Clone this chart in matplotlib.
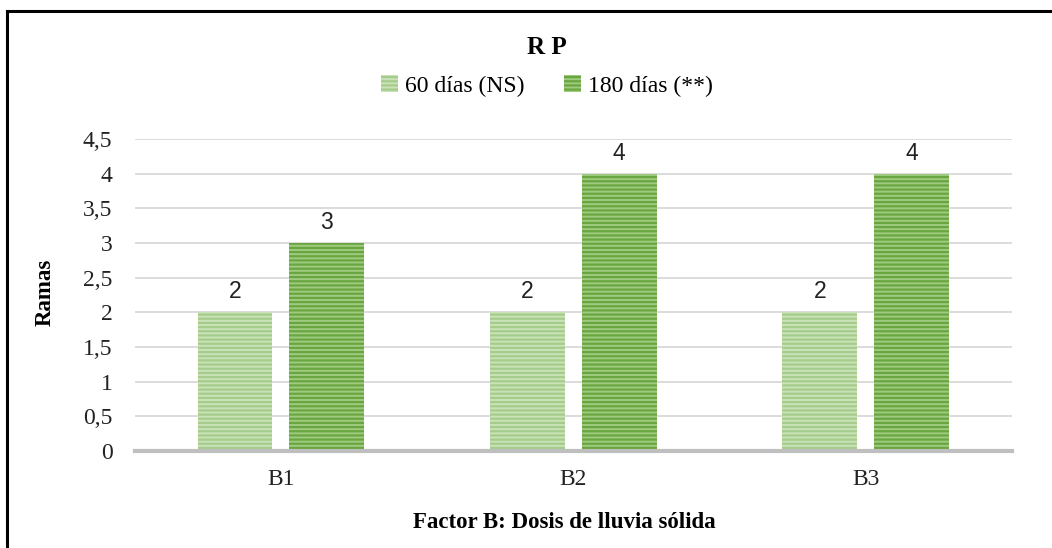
import numpy as np
import matplotlib.pyplot as plt
from matplotlib.patches import Patch
from matplotlib.lines import Line2D

# datos
categorias = ['B1', 'B2', 'B3']
dias_60 = [2, 2, 2]
dias_180 = [3, 4, 4]
series = ['60 días (NS)', '180 días (**)']
yticks = [0, 0.5, 1, 1.5, 2, 2.5, 3, 3.5, 4, 4.5]

plt.rcParams['font.family'] = ['Liberation Serif', 'DejaVu Serif']
plt.rcParams['hatch.linewidth'] = 1.6

fig = plt.figure(figsize=(10.52, 5.48), dpi=100)
ax = fig.add_axes([0.128, 0.177, 0.834, 0.569])

x = np.arange(len(categorias))
w = 0.256
sep = 0.058
estilos = [dict(facecolor='#c9e2b8', edgecolor='#a6cc8c'),
           dict(facecolor='#9fcb80', edgecolor='#6aa640')]

for k, (vals, est) in enumerate(zip([dias_60, dias_180], estilos)):
    pos = x + (k - 0.5) * (w + sep)
    barras = ax.bar(pos, vals, width=w, hatch='----', linewidth=0, zorder=3, **est)
    for b, v in zip(barras, vals):
        ax.annotate(str(v), (b.get_x() + b.get_width() / 2, v), xytext=(0, 15),
                    textcoords='offset points', ha='center', va='center',
                    fontsize=16.5, family='Liberation Sans', color='#222222')

ax.set_xlim(-0.5, 2.5)
ax.set_ylim(0, 4.5)
ax.set_yticks(yticks)
ax.set_yticklabels([str(t).replace('.', ',') if t % 1 else str(int(t)) for t in yticks])
ax.set_xticks(x)
ax.set_xticklabels(categorias)
ax.tick_params(length=0, labelsize=17, colors='#222222')
ax.tick_params(axis='y', pad=16)
ax.tick_params(axis='x', pad=13)
ax.grid(axis='y', color='#d9d9d9', linewidth=1.3, zorder=0)
for s in ['top', 'right', 'left']:
    ax.spines[s].set_visible(False)
ax.spines['bottom'].set_color('#bfbfbf')
ax.spines['bottom'].set_linewidth(3)
ax.spines['bottom'].set_zorder(4)

ax.set_ylabel('Ramas', fontsize=16.5, fontweight='bold')
ax.yaxis.set_label_coords(-0.09, 0.51)
ax.set_xlabel('Factor B: Dosis de lluvia sólida', fontsize=16.5, fontweight='bold')
ax.xaxis.set_label_coords(0.49, -0.195)

fig.text(0.52, 0.914, 'R P', ha='center', va='center', fontsize=18, fontweight='bold')

handles = [Patch(hatch='----', linewidth=0, **e) for e in estilos]
fig.legend(handles, series, loc='center', bbox_to_anchor=(0.52, 0.843), ncol=2,
           frameon=False, fontsize=17, handlelength=0.7, handleheight=0.7,
           handletextpad=0.3, columnspacing=1.7)

# marco superior e izquierdo
fig.add_artist(Line2D([0.0066, 1], [0.98, 0.98], color='black', linewidth=2.2))
fig.add_artist(Line2D([0.0066, 0.0066], [0, 0.98], color='black', linewidth=2.2))

fig.savefig('out.png', dpi=100)
